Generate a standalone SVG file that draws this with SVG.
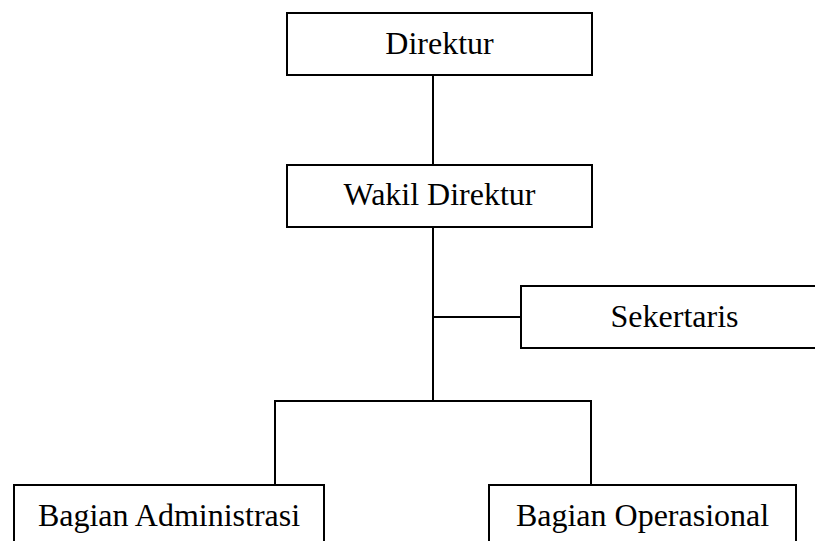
<svg xmlns="http://www.w3.org/2000/svg" width="815" height="541" viewBox="0 0 815 541">
  <style>
    .box { fill: #ffffff; stroke: #000000; stroke-width: 2; }
    .lbl { font-family: "Liberation Serif", "Times New Roman", serif; font-size: 32px; fill: #000000; text-anchor: middle; }
    .conn { fill: none; stroke: #000000; stroke-width: 2; }
  </style>
  <rect width="815" height="541" fill="#ffffff"/>
  <g id="connectors">
    <line class="conn" x1="433" y1="75" x2="433" y2="165"/>
    <line class="conn" x1="433" y1="227" x2="433" y2="401"/>
    <line class="conn" x1="433" y1="317" x2="521" y2="317"/>
    <polyline class="conn" points="275,485 275,401 591,401 591,485"/>
  </g>
  <g id="direktur">
    <rect class="box" x="287" y="13" width="305" height="62"/>
    <text class="lbl" x="439.5" y="54">Direktur</text>
  </g>
  <g id="wakil-direktur">
    <rect class="box" x="287" y="165" width="305" height="62"/>
    <text class="lbl" x="439.5" y="205">Wakil Direktur</text>
  </g>
  <g id="sekertaris">
    <rect class="box" x="521" y="286" width="307" height="62"/>
    <text class="lbl" x="674.5" y="327">Sekertaris</text>
  </g>
  <g id="bagian-administrasi">
    <rect class="box" x="14" y="485" width="310" height="70"/>
    <text class="lbl" x="169" y="526">Bagian Administrasi</text>
  </g>
  <g id="bagian-operasional">
    <rect class="box" x="489" y="485" width="307" height="70"/>
    <text class="lbl" x="642.5" y="526">Bagian Operasional</text>
  </g>
</svg>
